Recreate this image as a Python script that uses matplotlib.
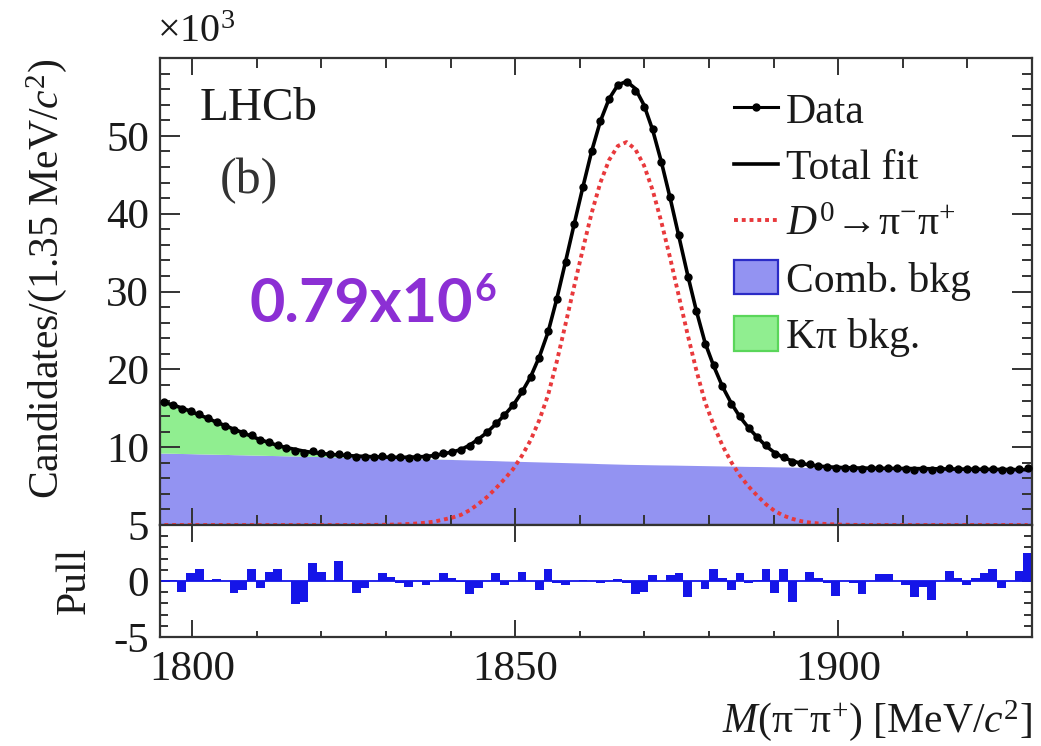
import numpy as np
import matplotlib
matplotlib.use('Agg')
from matplotlib import pyplot as plt
from matplotlib import ticker
from matplotlib.lines import Line2D
from matplotlib.patches import Patch

plt.rcParams['font.family'] = ['Liberation Serif', 'DejaVu Serif']
plt.rcParams['mathtext.fontset'] = 'custom'
plt.rcParams['mathtext.rm'] = 'Liberation Serif'
plt.rcParams['mathtext.it'] = 'Liberation Serif:italic'
plt.rcParams['mathtext.bf'] = 'Liberation Serif:bold'
plt.rcParams['axes.unicode_minus'] = False

# binning: 100 bins of 1.35 MeV/c^2
MASS_LO, MASS_HI = 1795.0, 1930.0
BIN_WIDTH = 1.35
N_BINS = 100

# candidates per bin, in units of 10^3
data_yield = [
    15.75, 15.43, 14.92, 14.71, 14.27, 13.73, 13.21, 12.77, 12.17, 11.78,
    11.51, 10.90, 10.67, 10.33, 9.94, 9.52, 9.31, 9.47, 9.27, 9.09,
    9.17, 8.94, 8.76, 8.76, 8.77, 8.81, 8.75, 8.68, 8.66, 8.75,
    8.78, 8.94, 9.22, 9.41, 9.69, 10.14, 10.96, 11.90, 13.05, 14.09,
    15.40, 17.18, 19.04, 21.49, 24.95, 29.02, 33.76, 38.69, 43.47, 48.03,
    51.86, 54.76, 56.57, 56.95, 55.81, 53.74, 50.85, 46.62, 42.12, 37.23,
    31.92, 27.55, 23.32, 20.56, 17.82, 15.57, 13.99, 12.46, 11.28, 10.26,
    9.17, 8.76, 8.07, 7.92, 7.79, 7.60, 7.46, 7.30, 7.37, 7.33,
    7.22, 7.30, 7.34, 7.33, 7.27, 7.23, 7.13, 7.20, 7.09, 7.22,
    7.28, 7.21, 7.15, 7.19, 7.22, 7.24, 7.09, 7.13, 7.20, 7.32,
]

# fit components per bin (10^3)
signal_fit = [
    0, 0, 0, 0, 0, 0, 0, 0, 0, 0,
    0, 0, 0, 0, 0, 0, 0, 0, 0, 0,
    0, 0, 0, 0.01, 0.02, 0.03, 0.05, 0.08, 0.13, 0.20,
    0.30, 0.45, 0.70, 0.95, 1.30, 1.90, 2.70, 3.60, 4.70, 5.90,
    7.20, 8.90, 10.90, 13.50, 16.70, 21.00, 25.80, 30.70, 35.50, 40.10,
    44.00, 46.90, 48.70, 49.20, 48.30, 46.20, 43.00, 38.90, 34.30, 29.40,
    24.50, 19.90, 15.80, 12.80, 10.20, 8.10, 6.35, 4.95, 3.75, 2.65,
    1.80, 1.20, 0.80, 0.50, 0.32, 0.20, 0.12, 0.07, 0.04, 0.02,
    0.01, 0, 0, 0, 0, 0, 0, 0, 0, 0,
    0, 0, 0, 0, 0, 0, 0, 0, 0, 0,
]

comb_fit = [
    9.24, 9.22, 9.19, 9.17, 9.14, 9.12, 9.09, 9.07, 9.04, 9.02,
    8.99, 8.97, 8.94, 8.92, 8.89, 8.87, 8.84, 8.82, 8.79, 8.77,
    8.74, 8.72, 8.69, 8.67, 8.64, 8.62, 8.59, 8.57, 8.54, 8.52,
    8.49, 8.47, 8.44, 8.42, 8.39, 8.36, 8.33, 8.30, 8.27, 8.23,
    8.20, 8.17, 8.14, 8.11, 8.08, 8.05, 8.02, 7.99, 7.96, 7.93,
    7.89, 7.86, 7.83, 7.80, 7.78, 7.76, 7.74, 7.72, 7.71, 7.69,
    7.67, 7.65, 7.63, 7.61, 7.59, 7.57, 7.55, 7.53, 7.52, 7.50,
    7.48, 7.46, 7.44, 7.42, 7.40, 7.38, 7.36, 7.35, 7.33, 7.32,
    7.31, 7.30, 7.29, 7.28, 7.27, 7.26, 7.25, 7.24, 7.23, 7.22,
    7.20, 7.19, 7.18, 7.17, 7.16, 7.15, 7.14, 7.13, 7.12, 7.11,
]

# K pi misID only feeds the low-mass bins
kpi_fit_low = [
    6.50, 6.20, 5.85, 5.45, 5.00, 4.60, 4.10, 3.70, 3.25, 2.85,
    2.40, 2.00, 1.65, 1.30, 1.05, 0.85, 0.65, 0.50, 0.40, 0.32,
    0.26, 0.21, 0.17, 0.14, 0.11, 0.09, 0.07, 0.05, 0.04, 0.03,
    0.02, 0.02, 0.01, 0.01,
]

pulls = [
    0.1, 0.1, -0.95, 0.7, 1.05, 0.1, 0.15, 0.0, -1.1, -0.8,
    1.1, -0.65, 0.8, 1.05, 0.0, -2.05, -1.85, 1.6, 0.85, 0.0,
    1.8, 0.1, -1.1, -0.65, 0.0, 0.75, 0.4, -0.2, -0.5, 0.0,
    -0.35, 0.0, 0.7, 0.3, -0.05, -1.15, -0.65, 0.0, 0.7, -0.35,
    0.0, 0.85, 0.0, -0.8, 1.05, -0.2, -0.35, 0.0, 0.05, 0.0,
    -0.15, 0.0, 0.15, -0.2, -1.15, -0.95, 0.5, 0.0, 0.55, 0.75,
    -1.4, 0.0, -0.75, 1.05, 0.25, -0.8, 0.75, -0.2, 0.1, 1.05,
    -1.1, 1.05, -1.85, 0.0, 0.85, 0.25, -0.2, -1.35, 0.0, -0.15,
    -1.15, 0.0, 0.6, 0.6, 0.0, -0.35, -1.4, -0.5, -1.7, 0.0,
    0.9, 0.25, -0.35, 0.25, 0.7, 1.05, -0.65, 0.0, 0.9, 2.5,
]

total_yield_label = '0.79x10'

COMB_COLOR = '#9393f2'
COMB_EDGE = '#2b2bc6'
KPI_COLOR = '#90ee90'
KPI_EDGE = '#5ad65a'
SIG_COLOR = '#e8393c'
PULL_COLOR = '#1515e8'
AXIS_COLOR = '#333333'
TEXT_COLOR = '#1a1a1a'

centres = MASS_LO + BIN_WIDTH * (np.arange(N_BINS) + 0.5)
data = np.array(data_yield)
sig = np.array(signal_fit)
comb = np.array(comb_fit)
kpi = np.zeros(N_BINS)
kpi[:len(kpi_fit_low)] = kpi_fit_low
total = sig + comb + kpi

# stretch the stacked bands out to the histogram edges
x_band = np.concatenate([[MASS_LO], centres, [MASS_HI]])
comb_band = np.concatenate([[comb[0]], comb, [comb[-1]]])
stack_band = np.concatenate([[comb[0] + kpi[0]], comb + kpi, [comb[-1] + kpi[-1]]])

fig = plt.figure(figsize=(10.41, 7.46), dpi=100)
ax = fig.add_axes([0.1537, 0.2962, 0.8377, 0.626])
axp = fig.add_axes([0.1537, 0.1461, 0.8377, 0.1501])

ax.fill_between(x_band, 0, comb_band, color=COMB_COLOR, lw=0, zorder=1)
ax.fill_between(x_band, comb_band, stack_band, color=KPI_COLOR, lw=0, zorder=1)
ax.plot(centres, sig, color=SIG_COLOR, lw=2.8, ls=(0, (1.0, 1.0)), zorder=3)
ax.plot(centres, total, color='black', lw=2.6, zorder=4)
ax.plot(centres, data, 'o', color='black', ms=5.0, zorder=5)

ax.set_xlim(MASS_LO, MASS_HI)
ax.set_ylim(0, 60)
ax.yaxis.set_major_locator(ticker.FixedLocator([10, 20, 30, 40, 50]))
ax.yaxis.set_minor_locator(ticker.MultipleLocator(2))
ax.xaxis.set_major_locator(ticker.MultipleLocator(50))
ax.xaxis.set_minor_locator(ticker.MultipleLocator(10))
ax.tick_params(axis='both', which='both', direction='in', top=True, right=True,
               color=AXIS_COLOR, width=1.4, labelsize=31, labelcolor=TEXT_COLOR)
ax.tick_params(axis='y', which='major', length=14.5, pad=8)
ax.tick_params(axis='y', which='minor', length=7.5)
ax.tick_params(axis='x', which='major', length=12.5)
ax.tick_params(axis='x', which='minor', length=7)
ax.tick_params(axis='x', labelbottom=False)

# pull panel
axp.bar(centres, pulls, width=BIN_WIDTH, color=PULL_COLOR, lw=0, zorder=2)
axp.axhline(0, color=PULL_COLOR, lw=1.3, zorder=2)
axp.set_xlim(MASS_LO, MASS_HI)
axp.set_ylim(-5, 5)
axp.yaxis.set_major_locator(ticker.FixedLocator([-5, 0, 5]))
axp.yaxis.set_minor_locator(ticker.MultipleLocator(1))
axp.xaxis.set_major_locator(ticker.MultipleLocator(50))
axp.xaxis.set_minor_locator(ticker.MultipleLocator(10))
axp.tick_params(axis='both', which='both', direction='in', top=True, right=True,
                color=AXIS_COLOR, width=1.4, labelsize=31, labelcolor=TEXT_COLOR)
axp.tick_params(axis='x', which='major', length=12.5, pad=10)
axp.tick_params(axis='x', which='minor', length=4, top=False)
axp.tick_params(axis='y', which='major', length=7.5, pad=8)
axp.tick_params(axis='y', which='minor', length=5.5)

for a in (ax, axp):
    for sp in a.spines.values():
        sp.set_color(AXIS_COLOR)
        sp.set_linewidth(1.6)

axp.set_xlabel(r'$M(\mathrm{\pi}^{-}\mathrm{\pi}^{+})$ [MeV/$c^{2}$]', fontsize=30,
               color=TEXT_COLOR, loc='right', labelpad=6)
fig.text(0.045, 0.626, r'Candidates/(1.35 MeV/$c^{2}$)', rotation=90, fontsize=30,
         color=TEXT_COLOR, ha='center', va='center')
fig.text(0.072, 0.222, 'Pull', rotation=90, fontsize=30, color=TEXT_COLOR,
         ha='center', va='center')

ax.text(-0.004, 1.015, r'$\times$10$^{3}$', transform=ax.transAxes, fontsize=29,
        color=TEXT_COLOR, ha='left', va='bottom')
ax.text(0.046, 0.867, 'LHCb', transform=ax.transAxes, fontsize=34,
        color=TEXT_COLOR, ha='left', va='baseline')
ax.text(0.068, 0.737, '(b)', transform=ax.transAxes, fontsize=36,
        color='#333333', ha='left', va='center')

yield_txt = ax.text(0.103, 0.435, total_yield_label, transform=ax.transAxes,
                    fontsize=44, fontweight='bold', family='Lato', color='#8c2fd4',
                    ha='left', va='baseline')
ax.annotate('6', xy=(1.0, 1.0), xycoords=yield_txt, xytext=(1, 2),
            textcoords='offset points', fontsize=27, fontweight='bold', family='Lato',
            color='#8c2fd4', ha='left', va='top')

handles = [
    Line2D([], [], color='black', lw=2.2, marker='o', ms=5.0),
    Line2D([], [], color='black', lw=2.6),
    Line2D([], [], color=SIG_COLOR, lw=2.8, ls=(0, (1.0, 1.0))),
    Patch(facecolor=COMB_COLOR, edgecolor=COMB_EDGE, lw=1.6),
    Patch(facecolor=KPI_COLOR, edgecolor=KPI_EDGE, lw=1.6),
]
labels = ['Data', 'Total fit', r'$D^{0}\!\rightarrow\!\mathrm{\pi}^{-}\mathrm{\pi}^{+}$',
          'Comb. bkg', 'K\u03c0 bkg.']
leg = ax.legend(handles, labels, loc='upper left', bbox_to_anchor=(0.658, 0.928),
                frameon=False, fontsize=30, handlelength=1.05, handleheight=0.9,
                handletextpad=0.2, labelspacing=0.37, borderpad=0, borderaxespad=0)
for t in leg.get_texts():
    t.set_color(TEXT_COLOR)

fig.savefig('out.png', dpi=100)
